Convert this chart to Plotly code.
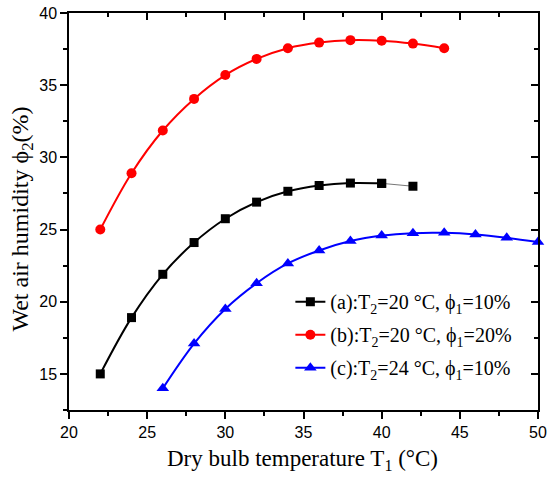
import plotly.graph_objects as go

# --- data ---
t1_a = [22, 24, 26, 28, 30, 32, 34, 36, 38, 40, 42]
phi2_a = [15.0, 18.9, 21.9, 24.1, 25.75, 26.9, 27.65, 28.05, 28.22, 28.2, 28.0]

t1_b = [22, 24, 26, 28, 30, 32, 34, 36, 38, 40, 42, 44]
phi2_b = [25.0, 28.9, 31.86, 34.05, 35.7, 36.82, 37.56, 37.95, 38.12, 38.08, 37.88, 37.56]

t1_c = [26, 28, 30, 32, 34, 36, 38, 40, 42, 44, 46, 48, 50]
phi2_c = [14.0, 17.1, 19.5, 21.28, 22.65, 23.55, 24.2, 24.58, 24.75, 24.77, 24.66, 24.43, 24.13]

names = [
    "(a):T<sub>2</sub>=20 °C, ϕ<sub>1</sub>=10%",
    "(b):T<sub>2</sub>=20 °C, ϕ<sub>1</sub>=20%",
    "(c):T<sub>2</sub>=24 °C, ϕ<sub>1</sub>=10%",
]

x_range = [20, 50]
y_range = [12.5, 40]

serif = "Liberation Serif"
sans = "Liberation Sans"

fig = go.Figure()

# thin grey tail of series (a)
fig.add_trace(go.Scatter(
    x=t1_a[-2:], y=phi2_a[-2:], mode="lines+markers",
    line=dict(color="#777777", width=1),
    marker=dict(symbol="square", size=9, color="black"),
    showlegend=False, hoverinfo="skip",
))
fig.add_trace(go.Scatter(
    x=t1_a[:-1], y=phi2_a[:-1], mode="lines+markers", name=names[0], legendgroup="a",
    line=dict(color="black", width=2, shape="spline"),
    marker=dict(symbol="square", size=9, color="black"),
))
fig.add_trace(go.Scatter(
    x=t1_b, y=phi2_b, mode="lines+markers", name=names[1], legendgroup="b",
    line=dict(color="#ff0000", width=2, shape="spline"),
    marker=dict(symbol="circle", size=10, color="#ff0000"),
))
fig.add_trace(go.Scatter(
    x=t1_c, y=phi2_c, mode="lines+markers", name=names[2], legendgroup="c",
    line=dict(color="#0000ff", width=2, shape="spline"),
    marker=dict(symbol="triangle-up", size=11, color="#0000ff"),
    cliponaxis=False,
))

axis_common = dict(
    showgrid=False, zeroline=False, showline=True,
    linecolor="black", linewidth=1.5,
    tickcolor="black", tickwidth=1.5,
)

fig.update_layout(
    width=550, height=483,
    margin=dict(l=69, r=12, t=13, b=73, autoexpand=False),
    paper_bgcolor="white", plot_bgcolor="white",
    xaxis=dict(
        range=x_range, dtick=5, ticks="outside", ticklen=7,
        minor=dict(dtick=2.5, ticks="outside", ticklen=4, tickcolor="black", tickwidth=1.5),
        tickfont=dict(family=sans, size=16, color="black"),
        **axis_common,
    ),
    yaxis=dict(
        range=y_range, tick0=15, dtick=5, ticks="outside", ticklen=7,
        minor=dict(tick0=12.5, dtick=2.5, ticks="outside", ticklen=4, tickcolor="black", tickwidth=1.5),
        tickfont=dict(family=sans, size=16, color="black"),
        **axis_common,
    ),
    xaxis2=dict(
        range=x_range, dtick=5, overlaying="x", side="top", ticks="inside", ticklen=7,
        minor=dict(dtick=2.5, ticks="inside", ticklen=4, tickcolor="black", tickwidth=1.5),
        showticklabels=False, **axis_common,
    ),
    yaxis2=dict(
        range=y_range, tick0=15, dtick=5, overlaying="y", side="right", ticks="inside", ticklen=7,
        minor=dict(tick0=12.5, dtick=2.5, ticks="inside", ticklen=4, tickcolor="black", tickwidth=1.5),
        showticklabels=False, **axis_common,
    ),
    legend=dict(
        x=0.472, y=0.322, xanchor="left", yanchor="top",
        bgcolor="rgba(0,0,0,0)", tracegroupgap=4,
        font=dict(family=serif, size=20, color="black"),
    ),
    annotations=[
        dict(
            text="Dry bulb temperature T<sub>1</sub> (°C)",
            xref="paper", yref="paper", x=0.497, y=-0.125, xanchor="center", yanchor="middle",
            showarrow=False, font=dict(family=serif, size=23, color="black"),
        ),
        dict(
            text="Wet air humidity ϕ<sub>2</sub>(%)",
            xref="paper", yref="paper", x=-0.1, y=0.48, xanchor="center", yanchor="middle",
            textangle=-90, showarrow=False, font=dict(family=serif, size=24, color="black"),
        ),
    ],
)

# dummy trace so the mirrored axes are drawn
fig.add_trace(go.Scatter(x=[None], y=[None], xaxis="x2", yaxis="y2", showlegend=False, hoverinfo="skip"))

fig.write_html(
    "out.html",
    config={"displayModeBar": False},
    post_script="document.body.style.margin='0';",
)
